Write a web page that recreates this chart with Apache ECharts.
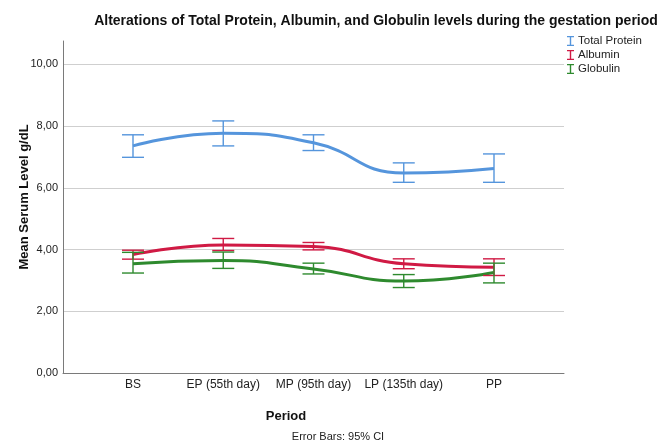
<!DOCTYPE html>
<html><head><meta charset="utf-8">
<script src="https://cdn.jsdelivr.net/npm/echarts@6/dist/echarts.min.js"></script>
<style>html,body{margin:0;padding:0;background:#fff}#c{width:660px;height:448px}</style>
</head><body><div id="c"></div>
<script>
var categories = ['BS', 'EP (55th day)', 'MP (95th day)', 'LP (135th day)', 'PP'];
var seriesNames = ['Total Protein', 'Albumin', 'Globulin'];
var totalMean = [7.36, 7.77, 7.46, 6.48, 6.63];
var totalLow  = [6.99, 7.36, 7.21, 6.18, 6.18];
var totalHigh = [7.72, 8.17, 7.72, 6.81, 7.10];
var albMean = [3.84, 4.15, 4.10, 3.54, 3.43];
var albLow  = [3.69, 3.97, 3.99, 3.38, 3.16];
var albHigh = [3.98, 4.36, 4.23, 3.70, 3.70];
var gloMean = [3.54, 3.65, 3.37, 2.98, 3.26];
var gloLow  = [3.24, 3.39, 3.21, 2.77, 2.92];
var gloHigh = [3.91, 3.92, 3.56, 3.19, 3.56];
var yTicks = [0, 2, 4, 6, 8, 10];

var colors = ['#5595dc', '#d01a44', '#2e8a2e'];
var means = [totalMean, albMean, gloMean];
var lows = [totalLow, albLow, gloLow];
var highs = [totalHigh, albHigh, gloHigh];
var YMAX = 10.76;
var font = 'Liberation Sans, Arial, sans-serif';

var chart = echarts.init(document.getElementById('c'));
var series = [];
seriesNames.forEach(function (name, k) {
  series.push({
    name: name, type: 'line', xAxisIndex: 1, yAxisIndex: 1,
    data: means[k], smooth: 0.5, symbol: 'none',
    lineStyle: { color: colors[k], width: 3 }, itemStyle: { color: colors[k] },
    z: 3
  });
  series.push({
    name: name, type: 'custom', xAxisIndex: 1, yAxisIndex: 1,
    data: categories.map(function (c, i) { return [i, lows[k][i], highs[k][i]]; }),
    renderItem: function (params, api) {
      var lo = api.coord([api.value(0), api.value(1)]);
      var hi = api.coord([api.value(0), api.value(2)]);
      var hw = 11;
      var st = { stroke: colors[k], lineWidth: 1.4 };
      return { type: 'group', children: [
        { type: 'line', shape: { x1: hi[0], y1: hi[1], x2: lo[0], y2: lo[1] }, style: st },
        { type: 'line', shape: { x1: hi[0] - hw, y1: hi[1], x2: hi[0] + hw, y2: hi[1] }, style: st },
        { type: 'line', shape: { x1: lo[0] - hw, y1: lo[1], x2: lo[0] + hw, y2: lo[1] }, style: st }
      ] };
    },
    z: 4, silent: true
  });
});

var splitColors = yTicks.map(function () { return '#cfcfcf'; });
splitColors.push('rgba(0,0,0,0)');

chart.setOption({
  animation: false,
  backgroundColor: '#fff',
  textStyle: { fontFamily: font },
  title: [
    { text: 'Alterations of Total Protein, Albumin, and Globulin levels during the gestation period',
      left: 371, top: 9, textAlign: 'center',
      textStyle: { fontSize: 14, fontWeight: 'bold', color: '#111', fontFamily: font } },
    { text: 'Period', left: 281, top: 405, textAlign: 'center',
      textStyle: { fontSize: 13, fontWeight: 'bold', color: '#111', fontFamily: font } },
    { text: 'Error Bars: 95% CI', left: 333, top: 426, textAlign: 'center',
      textStyle: { fontSize: 11, fontWeight: 'normal', color: '#222', fontFamily: font } }
  ],
  graphic: [{
    type: 'text', x: 24, y: 197, rotation: Math.PI / 2,
    style: { text: 'Mean Serum Level g/dL', font: 'bold 13px ' + font, fill: '#111',
      textAlign: 'center', textVerticalAlign: 'middle' }
  }],
  legend: {
    orient: 'vertical', left: 562, top: 30, itemGap: 2, itemWidth: 7, itemHeight: 10,
    data: seriesNames.map(function (n, k) {
      return { name: n, icon: 'path://M0,0h7v1.3h-2.8v7.4h2.8v1.3h-7v-1.3h2.8v-7.4h-2.8z',
        itemStyle: { color: colors[k] } };
    }),
    textStyle: { fontSize: 11.5, color: '#222', fontFamily: font, padding: [0, 0, 0, -1] }
  },
  grid: [
    { left: 63, right: 96, top: 41, bottom: 75 },
    { left: 133, right: 166, top: 41, bottom: 75 }
  ],
  xAxis: [
    { type: 'category', gridIndex: 0, data: categories, boundaryGap: false,
      axisLine: { lineStyle: { color: '#7a7a7a', width: 1 } }, axisTick: { show: false },
      axisLabel: { show: false }, splitLine: { show: false } },
    { type: 'category', gridIndex: 1, data: categories, boundaryGap: false,
      axisLine: { show: false }, axisTick: { show: false }, splitLine: { show: false },
      axisLabel: { interval: 0, hideOverlap: false, fontSize: 12, color: '#222', margin: 6, fontFamily: font } }
  ],
  yAxis: [
    { type: 'value', gridIndex: 0, min: 0, max: YMAX, interval: 2,
      axisLine: { show: true, lineStyle: { color: '#7a7a7a', width: 1 } }, axisTick: { show: false },
      splitLine: { show: true, lineStyle: { color: splitColors, width: 1.2 } },
      axisLabel: { fontSize: 11, color: '#222', margin: 5, fontFamily: font, showMaxLabel: false,
        formatter: function (v) { return yTicks.indexOf(v) >= 0 ? v.toFixed(2).replace('.', ',') : ''; } } },
    { type: 'value', gridIndex: 1, min: 0, max: YMAX, show: false, splitLine: { show: false } }
  ],
  series: series
});
</script></body></html>
